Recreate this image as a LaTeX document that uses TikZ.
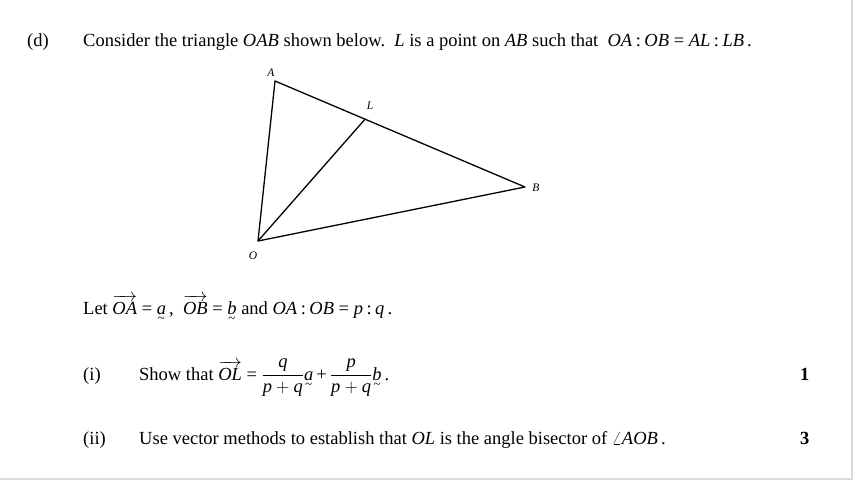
\RequirePackage{fix-cm}
\documentclass[tikz,border=0pt]{standalone}
\usepackage{amsmath}
\usepackage{fontspec}
\setmainfont{Liberation Serif}
\newcommand\tv[1]{\begingroup\setbox0\hbox{\itshape #1}\vtop{\copy0\nointerlineskip\kern3pt\hbox to\wd0{\hss\fontsize{13}{13}\selectfont\char"007E\hss}}\endgroup}
\newcommand\ov[1]{\ensuremath{\overrightarrow{\textit{#1}}}}
\newcommand\iv[1]{\textit{#1}}
\newcommand\cl{\kern3.5pt:\kern3.5pt}
\begin{document}
\begin{tikzpicture}[x=1pt,y=-1pt,
  txt/.style={anchor=base west,inner sep=0pt,font=\fontsize{18.5}{22}\selectfont},
  lbl/.style={font=\fontsize{11.5}{13}\selectfont\itshape,inner sep=0pt},
  edge/.style={line width=1.3pt,line join=round}]
\useasboundingbox (0,0) rectangle (853,480);
\fill[white] (0,0) rectangle (853,480);
\draw[black!15,line width=1.5pt] (852.2,0) -- (852.2,479.2) -- (0,479.2);
% header
\node[txt] (d) at (27,46) {(d)};
\node[txt] (t1) at (83,46) {Consider the triangle \iv{OAB} shown below.\ \ \iv{L} is a point on \iv{AB} such that\ \ \iv{OA}\cl\iv{OB} = \iv{AL}\cl\iv{LB}\,.};
% triangle
\coordinate (O) at (258,241);
\coordinate (A) at (275,81);
\coordinate (B) at (525,187);
\coordinate (L) at (365,119.2);
\draw[edge] (O) -- (A) -- (B) -- cycle;
\draw[edge] (O) -- (L);
\node[lbl] (lA) at (271,73) {A};
\node[lbl] (lL) at (370,106) {L};
\node[lbl] (lB) at (536,188) {B};
\node[lbl] (lO) at (253,256) {O};
% let line
\node[txt] (let) at (83,314) {Let \ov{OA} = \tv{a}\,,\ \ \ov{OB} = \tv{b} and \iv{OA}\cl\iv{OB} = \iv{p}\cl\iv{q}\,.};
% (i)
\node[txt] (i) at (83,380) {(i)};
\node[txt] (ti) at (139,380) {Show that \ov{OL} = $\dfrac{\iv{q}}{\iv{p}+\iv{q}}$\tv{a}\,+\,$\dfrac{\iv{p}}{\iv{p}+\iv{q}}$\tv{b}\,.};
\node[txt,font=\fontsize{18.5}{22}\selectfont\bfseries] (m1) at (800,380) {1};
% (ii)
\node[txt] (ii) at (83,444) {(ii)};
\node[txt] (tii) at (139,444) {Use vector methods to establish that \iv{OL} is the angle bisector of $\angle$\iv{AOB}\,.};
\node[txt,font=\fontsize{18.5}{22}\selectfont\bfseries] (m3) at (800,444) {3};
\end{tikzpicture}
\end{document}
